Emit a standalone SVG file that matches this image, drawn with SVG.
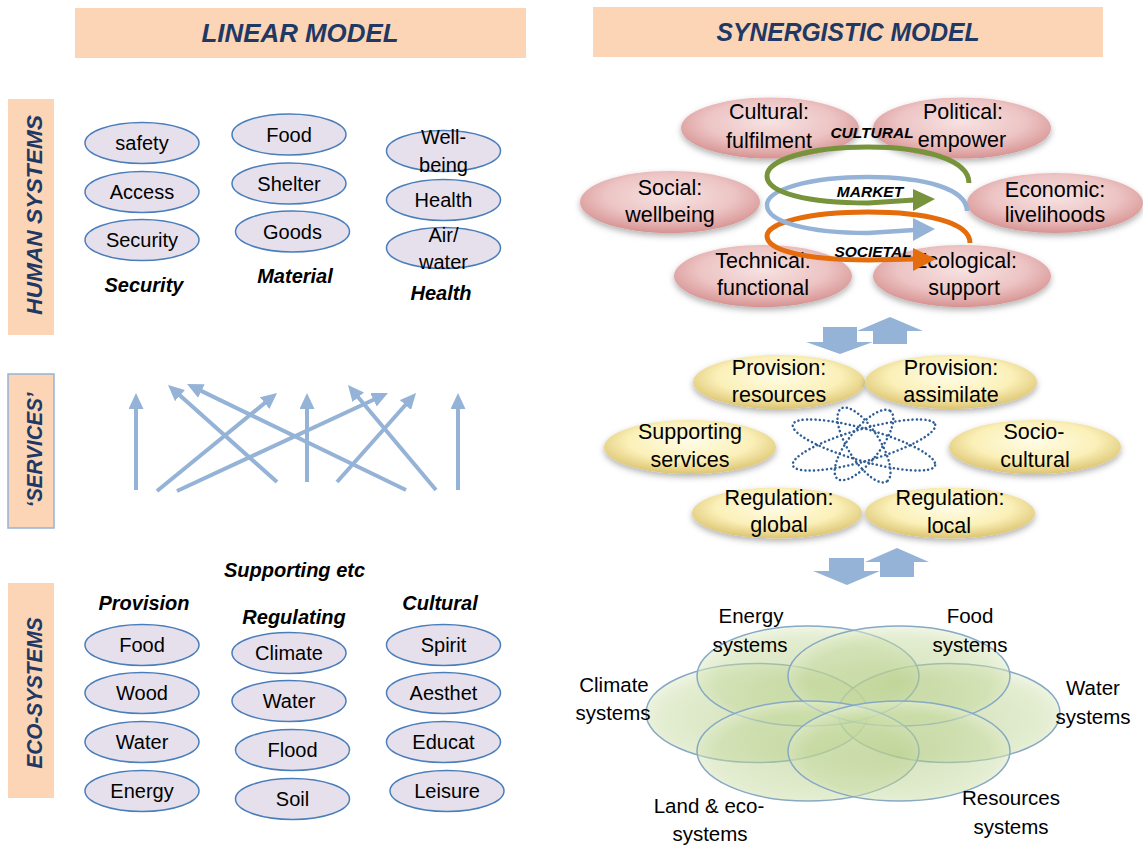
<svg xmlns="http://www.w3.org/2000/svg" width="1143" height="849" viewBox="0 0 1143 849">
<style>
.bg{fill:#ffffff}
.peach{fill:#fbd5b5}
.hdr{font-family:"Liberation Sans",Arial,sans-serif;font-weight:bold;font-style:italic;font-size:26px;fill:#1f3864;text-anchor:middle}
.side{font-family:"Liberation Sans",Arial,sans-serif;font-weight:bold;font-style:italic;font-size:22px;fill:#1f3864;text-anchor:middle}
.lav{fill:#e6e0ec;stroke:#4a7ebb;stroke-width:1.5}
.t20{font-family:"Liberation Sans",Arial,sans-serif;font-size:20px;fill:#000;text-anchor:middle}
.t22{font-family:"Liberation Sans",Arial,sans-serif;font-size:21.5px;fill:#000;text-anchor:middle}
.t205{font-family:"Liberation Sans",Arial,sans-serif;font-size:20.5px;fill:#000;text-anchor:middle}
.bi{font-family:"Liberation Sans",Arial,sans-serif;font-weight:bold;font-style:italic;font-size:20px;fill:#000;text-anchor:middle}
.bis{font-family:"Liberation Sans",Arial,sans-serif;font-weight:bold;font-style:italic;font-size:15.5px;fill:#000;text-anchor:middle}
.svc{stroke:#95b3d7;stroke-width:4;fill:none;marker-end:url(#ah)}
.blk{fill:#95b3d7}
.pink{fill:url(#gPink);filter:url(#sh)}
.yel{fill:url(#gYel);filter:url(#sh)}
.grn{fill:url(#gGrn);stroke:#86a9c4;stroke-width:1.5}
.atom{fill:none;stroke:#2e5d95;stroke-width:2.5;stroke-dasharray:0.1 4.2;stroke-linecap:round}
</style>
<defs>
<marker id="ah" markerUnits="userSpaceOnUse" markerWidth="16" markerHeight="15" refX="6" refY="7.5" orient="auto">
<path d="M0,0 L16,7.5 L0,15 z" fill="#95b3d7"/>
</marker>
<radialGradient id="gPink" cx="50%" cy="40%" r="60%">
<stop offset="0" stop-color="#f7e2e2"/>
<stop offset="0.6" stop-color="#edc4c4"/>
<stop offset="1" stop-color="#d69392"/>
</radialGradient>
<radialGradient id="gYel" cx="50%" cy="40%" r="60%">
<stop offset="0" stop-color="#fffce6"/>
<stop offset="0.6" stop-color="#fbf0b8"/>
<stop offset="1" stop-color="#dcc470"/>
</radialGradient>
<radialGradient id="gGrn" cx="50%" cy="55%" r="55%">
<stop offset="0" stop-color="#adc77c" stop-opacity="0.5"/>
<stop offset="0.75" stop-color="#c6daa0" stop-opacity="0.5"/>
<stop offset="1" stop-color="#e8f0d6" stop-opacity="0.6"/>
</radialGradient>
<filter id="sh" x="-20%" y="-30%" width="140%" height="170%">
<feDropShadow dx="0" dy="3" stdDeviation="3" flood-color="#000" flood-opacity="0.3"/>
</filter>
</defs>
<rect class="bg" x="0" y="0" width="1143" height="849"/>

<g id="header-linear">
<rect class="peach" x="75" y="8" width="451" height="50"/>
<text class="hdr" x="300" y="42" textLength="197" lengthAdjust="spacingAndGlyphs">LINEAR  MODEL</text>
</g>
<g id="header-synergistic">
<rect class="peach" x="593" y="7" width="510" height="50"/>
<text class="hdr" x="848" y="41" textLength="263" lengthAdjust="spacingAndGlyphs">SYNERGISTIC MODEL</text>
</g>

<g id="bar-human">
<rect class="peach" x="8" y="99" width="46" height="236"/>
<text class="side" transform="translate(42,215) rotate(-90)" textLength="200" lengthAdjust="spacingAndGlyphs">HUMAN SYSTEMS</text>
</g>
<g id="bar-services">
<rect class="peach" x="8" y="374" width="46" height="154" stroke="#95b3d7" stroke-width="1.5"/>
<text class="side" transform="translate(42,450) rotate(-90)" textLength="115" lengthAdjust="spacingAndGlyphs">‘SERVICES’</text>
</g>
<g id="bar-eco">
<rect class="peach" x="8" y="583" width="46" height="215"/>
<text class="side" transform="translate(42,693) rotate(-90)" textLength="151" lengthAdjust="spacingAndGlyphs">ECO-SYSTEMS</text>
</g>

<!-- Human systems -->
<g id="h-safety"><ellipse class="lav" cx="142" cy="143" rx="57" ry="20.5"/><text class="t20" x="142" y="150">safety</text></g>
<g id="h-access"><ellipse class="lav" cx="142" cy="192" rx="57" ry="20.5"/><text class="t20" x="142" y="199">Access</text></g>
<g id="h-security"><ellipse class="lav" cx="142" cy="240" rx="57" ry="20.5"/><text class="t20" x="142" y="247">Security</text></g>
<g id="h-food"><ellipse class="lav" cx="289" cy="134.5" rx="57" ry="20.5"/><text class="t20" x="289" y="142">Food</text></g>
<g id="h-shelter"><ellipse class="lav" cx="289" cy="183.5" rx="57" ry="20.5"/><text class="t20" x="289" y="191">Shelter</text></g>
<g id="h-goods"><ellipse class="lav" cx="292.5" cy="231.5" rx="57" ry="20.5"/><text class="t20" x="292.5" y="239">Goods</text></g>
<g id="h-wellbeing"><ellipse class="lav" cx="443.5" cy="151" rx="57" ry="20.5"/><text class="t20" x="443.5" y="144">Well-</text><text class="t20" x="443.5" y="172">being</text></g>
<g id="h-health"><ellipse class="lav" cx="443.5" cy="200" rx="57" ry="20.5"/><text class="t20" x="443.5" y="207">Health</text></g>
<g id="h-airwater"><ellipse class="lav" cx="443.5" cy="248" rx="57" ry="20.5"/><text class="t20" x="443.5" y="242">Air/</text><text class="t20" x="443.5" y="269">water</text></g>
<g id="lbl-human">
<text class="bi" x="144" y="292">Security</text>
<text class="bi" x="295" y="283">Material</text>
<text class="bi" x="441" y="300">Health</text>
</g>

<!-- Eco-systems -->
<g id="lbl-eco">
<text class="bi" x="294.5" y="577">Supporting etc</text>
<text class="bi" x="144" y="610">Provision</text>
<text class="bi" x="294" y="624">Regulating</text>
<text class="bi" x="440" y="610">Cultural</text>
</g>
<g id="e-food"><ellipse class="lav" cx="142" cy="645" rx="57" ry="20.5"/><text class="t20" x="142" y="652">Food</text></g>
<g id="e-wood"><ellipse class="lav" cx="142" cy="693" rx="57" ry="20.5"/><text class="t20" x="142" y="700">Wood</text></g>
<g id="e-water"><ellipse class="lav" cx="142" cy="742" rx="57" ry="20.5"/><text class="t20" x="142" y="749">Water</text></g>
<g id="e-energy"><ellipse class="lav" cx="142" cy="791" rx="57" ry="20.5"/><text class="t20" x="142" y="798">Energy</text></g>
<g id="e-climate"><ellipse class="lav" cx="289" cy="653" rx="57" ry="20.5"/><text class="t20" x="289" y="660">Climate</text></g>
<g id="e-water2"><ellipse class="lav" cx="289" cy="701" rx="57" ry="20.5"/><text class="t20" x="289" y="708">Water</text></g>
<g id="e-flood"><ellipse class="lav" cx="292.5" cy="750" rx="57" ry="20.5"/><text class="t20" x="292.5" y="757">Flood</text></g>
<g id="e-soil"><ellipse class="lav" cx="292.5" cy="799" rx="57" ry="20.5"/><text class="t20" x="292.5" y="806">Soil</text></g>
<g id="e-spirit"><ellipse class="lav" cx="443.5" cy="645" rx="57" ry="20.5"/><text class="t20" x="443.5" y="652">Spirit</text></g>
<g id="e-aesthet"><ellipse class="lav" cx="443.5" cy="693" rx="57" ry="20.5"/><text class="t20" x="443.5" y="700">Aesthet</text></g>
<g id="e-educat"><ellipse class="lav" cx="443.5" cy="742" rx="57" ry="20.5"/><text class="t20" x="443.5" y="749">Educat</text></g>
<g id="e-leisure"><ellipse class="lav" cx="447" cy="791" rx="57" ry="20.5"/><text class="t20" x="447" y="798">Leisure</text></g>

<!-- Synergistic: human systems -->
<g id="s-cultural"><ellipse class="pink" cx="770" cy="128" rx="89" ry="30.5"/><text class="t22" x="769" y="119">Cultural:</text><text class="t22" x="769" y="148">fulfilment</text></g>
<g id="s-political"><ellipse class="pink" cx="962" cy="128" rx="89" ry="30.5"/><text class="t22" x="963" y="119">Political:</text><text class="t22" x="962" y="147">empower</text></g>
<g id="s-social"><ellipse class="pink" cx="670" cy="202" rx="90" ry="31"/><text class="t22" x="670" y="195">Social:</text><text class="t22" x="670" y="222">wellbeing</text></g>
<g id="s-economic"><ellipse class="pink" cx="1055" cy="203" rx="88" ry="30"/><text class="t22" x="1055" y="197">Economic:</text><text class="t22" x="1055" y="222">livelihoods</text></g>
<g id="s-technical"><ellipse class="pink" cx="763" cy="276" rx="89" ry="31"/><text class="t22" x="763" y="268">Technical:</text><text class="t22" x="763" y="295">functional</text></g>
<g id="s-ecological"><ellipse class="pink" cx="962" cy="276" rx="89" ry="31"/><text class="t22" x="965" y="268">Ecological:</text><text class="t22" x="964" y="295">support</text></g>

<!-- Synergistic: services -->
<g id="y-prov-res"><ellipse class="yel" cx="779" cy="382" rx="86" ry="27"/><text class="t22" x="779" y="375">Provision:</text><text class="t22" x="779" y="402">resources</text></g>
<g id="y-prov-ass"><ellipse class="yel" cx="951" cy="382" rx="86" ry="27"/><text class="t22" x="951" y="375">Provision:</text><text class="t22" x="951" y="402">assimilate</text></g>
<g id="y-supporting"><ellipse class="yel" cx="690" cy="447" rx="86" ry="27"/><text class="t22" x="690" y="439">Supporting</text><text class="t22" x="690" y="467">services</text></g>
<g id="y-socio"><ellipse class="yel" cx="1035" cy="447" rx="86" ry="27"/><text class="t22" x="1034" y="439">Socio-</text><text class="t22" x="1035" y="467">cultural</text></g>
<g id="y-reg-global"><ellipse class="yel" cx="777" cy="513" rx="85" ry="25.5"/><text class="t22" x="779" y="505">Regulation:</text><text class="t22" x="779" y="532">global</text></g>
<g id="y-reg-local"><ellipse class="yel" cx="950" cy="513" rx="85" ry="25.5"/><text class="t22" x="950" y="505">Regulation:</text><text class="t22" x="949" y="533">local</text></g>
<g id="atom">
<ellipse class="atom" cx="864" cy="445" rx="74" ry="16" transform="rotate(-16 864 445)"/>
<ellipse class="atom" cx="864" cy="445" rx="74" ry="16" transform="rotate(16 864 445)"/>
<ellipse class="atom" cx="864" cy="445" rx="43" ry="16" transform="rotate(58 864 445)"/>
<ellipse class="atom" cx="864" cy="445" rx="43" ry="16" transform="rotate(-52 864 445)"/>
</g>

<!-- Synergistic: eco systems -->
<g id="g-ellipses">
<ellipse class="grn" cx="757" cy="713" rx="111" ry="49.5"/>
<ellipse class="grn" cx="949" cy="713" rx="111" ry="49.5"/>
<ellipse class="grn" cx="808" cy="676" rx="111" ry="50"/>
<ellipse class="grn" cx="899" cy="676" rx="111" ry="50"/>
<ellipse class="grn" cx="808" cy="751" rx="111" ry="50"/>
<ellipse class="grn" cx="899" cy="751" rx="111" ry="50"/>
</g>
<g id="g-energy"><text class="t205" x="751" y="623">Energy</text><text class="t205" x="750" y="652">systems</text></g>
<g id="g-food"><text class="t205" x="970" y="623">Food</text><text class="t205" x="970" y="652">systems</text></g>
<g id="g-climate"><text class="t205" x="614" y="692">Climate</text><text class="t205" x="613" y="720">systems</text></g>
<g id="g-water"><text class="t205" x="1093" y="695">Water</text><text class="t205" x="1093" y="724">systems</text></g>
<g id="g-land"><text class="t205" x="709" y="813">Land &amp; eco-</text><text class="t205" x="710" y="841">systems</text></g>
<g id="g-resources"><text class="t205" x="1011" y="805">Resources</text><text class="t205" x="1011" y="834">systems</text></g>

<!-- Connectors -->
<g id="connectors">
<line class="svc" x1="136" y1="490" x2="136" y2="403"/>
<line class="svc" x1="157" y1="491" x2="269.3" y2="399.3"/>
<line class="svc" x1="177" y1="491" x2="378.9" y2="397.2"/>
<line class="svc" x1="277" y1="482" x2="175.5" y2="391.6"/>
<line class="svc" x1="307" y1="482" x2="307" y2="403"/>
<line class="svc" x1="337" y1="482" x2="409.4" y2="400.5"/>
<line class="svc" x1="406" y1="490" x2="196" y2="388.4"/>
<line class="svc" x1="436" y1="490" x2="354.4" y2="392.7"/>
<line class="svc" x1="458" y1="490" x2="458" y2="403"/>

<path d="M970,243 C970,222 925,212 868,212 C808,212 767,223 767,236 C767,251 808,260 868,260 L914,259" fill="none" stroke="#e46c0a" stroke-width="5"/>
<polygon points="913,248 936,259 913,271" fill="#e46c0a"/>
<path d="M967,211 C967,189 925,177 868,177 C808,177 767,190 767,205 C767,222 808,233 868,233 L914,230" fill="none" stroke="#95b3d7" stroke-width="4.5"/>
<polygon points="913,218 935,229 913,241" fill="#95b3d7"/>
<path d="M969,183 C969,160 925,147 868,147 C808,147 767,160 767,176 C767,193 808,203 868,203 L914,200" fill="none" stroke="#77933c" stroke-width="5"/>
<polygon points="913,189 935,199 913,211" fill="#77933c"/>
<text class="bis" x="872" y="138">CULTURAL</text>
<text class="bis" x="870" y="197">MARKET</text>
<text class="bis" x="873" y="257">SOCIETAL</text>

<polygon class="blk" points="823,327 857,327 857,342 873,342 840,354 806,342 823,342"/>
<polygon class="blk" points="890,317 923,331 907,331 907,344 873,344 873,331 857,331"/>
<polygon class="blk" points="829,558 864,558 864,571 880,571 847,585 813,571 829,571"/>
<polygon class="blk" points="897,548 929,562 914,562 914,577 880,577 880,562 865,562"/>
</g>
</svg>
